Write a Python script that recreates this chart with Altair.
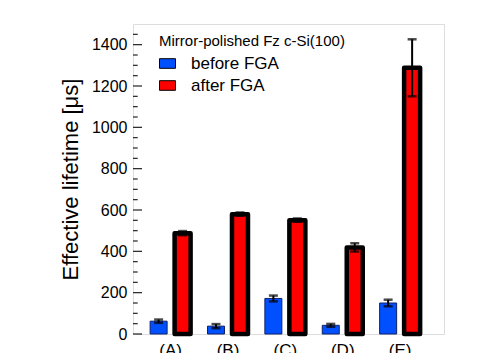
import altair as alt
import pandas as pd

groups = ["(A)", "(B)", "(C)", "(D)", "(E)"]
series = ["before FGA", "after FGA"]
before = [62, 38, 172, 42, 150]
before_err = [8, 10, 14, 7, 16]
after = [488, 580, 551, 419, 1288]
after_err = [10, 8, 8, 20, 138]

major_ticks = [0, 200, 400, 600, 800, 1000, 1200, 1400]
minor_ticks = [v for v in range(50, 1500, 50) if v % 200 != 0]

rows = []
for g, v, e in zip(groups, before, before_err):
    rows.append({"group": g, "series": series[0], "value": v, "err": e})
for g, v, e in zip(groups, after, after_err):
    rows.append({"group": g, "series": series[1], "value": v, "err": e})
df = pd.DataFrame(rows)

FONT = "Liberation Sans"
BLUE = "#0050ff"
RED = "#ff0000"

xenc = alt.X("group:N", sort=groups,
             scale=alt.Scale(paddingInner=0, paddingOuter=0.21, align=0.37),
             axis=alt.Axis(title=None, labelAngle=0, ticks=False, domain=False,
                           labelFontSize=17, labelPadding=8, labelColor="black",
                           labelFont=FONT))
xoff = alt.XOffset("series:N", sort=series,
                   scale=alt.Scale(domain=series, paddingInner=0, paddingOuter=0.196))
yscale = alt.Scale(domain=[0, 1500], nice=False)
yenc = alt.Y("value:Q", scale=yscale,
             axis=alt.Axis(title="Effective lifetime [\u03bcs]", values=major_ticks,
                           format="d",
                           ticks=False, domain=False, grid=False,
                           labelFontSize=16, labelPadding=6, labelColor="black",
                           labelFont=FONT, titleFont=FONT, titleFontSize=22,
                           titleFontWeight="normal", titleColor="black",
                           titlePadding=9))
fill = alt.Fill("series:N", sort=series,
                scale=alt.Scale(domain=series, range=[BLUE, RED]),
                legend=alt.Legend(title="Mirror-polished Fz c-Si(100)",
                                  orient="none", legendX=26, legendY=10,
                                  padding=0, titleLimit=400, labelLimit=300,
                                  titleFont=FONT, titleFontSize=15,
                                  titleFontWeight="normal", titleColor="black",
                                  titlePadding=6,
                                  labelFont=FONT, labelFontSize=17, labelColor="black",
                                  labelOffset=15,
                                  symbolType="M-1,-0.6H1V0.6H-1Z", symbolSize=256,
                                  symbolStrokeColor="black", symbolStrokeWidth=1,
                                  symbolOpacity=1, rowPadding=4))

base = alt.Chart(df)

blue_bars = base.transform_filter(alt.datum.series == series[0]).mark_bar(
    width=17, stroke="#10206a", strokeWidth=1
).encode(x=xenc, xOffset=xoff, y=yenc, fill=fill)

red_bars = base.transform_filter(alt.datum.series == series[1]).mark_bar(
    width=16, stroke="black", strokeWidth=4.5, strokeJoin="round"
).encode(x=xenc, xOffset=xoff, y=yenc, fill=fill)

err_base = base.transform_calculate(lo="datum.value - datum.err",
                                    hi="datum.value + datum.err")
err_rule = err_base.mark_rule(color="black", strokeWidth=2).encode(
    x=xenc, xOffset=xoff,
    y=alt.Y("lo:Q", scale=yscale), y2="hi:Q")
cap_lo = err_base.mark_tick(color="black", size=9, thickness=2.5, orient="horizontal").encode(
    x=xenc, xOffset=xoff, y=alt.Y("lo:Q", scale=yscale))
cap_hi = err_base.mark_tick(color="black", size=9, thickness=2.5, orient="horizontal").encode(
    x=xenc, xOffset=xoff, y=alt.Y("hi:Q", scale=yscale))

major = alt.Chart(pd.DataFrame({"t": major_ticks})).mark_rule(
    color="#222", strokeWidth=1.2).encode(
    y=alt.Y("t:Q", scale=yscale), x=alt.value(0), x2=alt.value(9))
minor = alt.Chart(pd.DataFrame({"t": minor_ticks})).mark_rule(
    color="#222", strokeWidth=1.2).encode(
    y=alt.Y("t:Q", scale=yscale), x=alt.value(0), x2=alt.value(4.7))

chart = alt.layer(blue_bars, red_bars, err_rule, cap_lo, cap_hi, major, minor).properties(
    width=311, height=310,
    autosize=alt.AutoSizeParams(type="none"),
    padding={"left": 133, "top": 24, "right": 53, "bottom": 19},
).configure_view(stroke="#333", strokeWidth=1.3).configure(background="white")

chart.save("out.html", embed_options={"renderer": "svg", "actions": False})
